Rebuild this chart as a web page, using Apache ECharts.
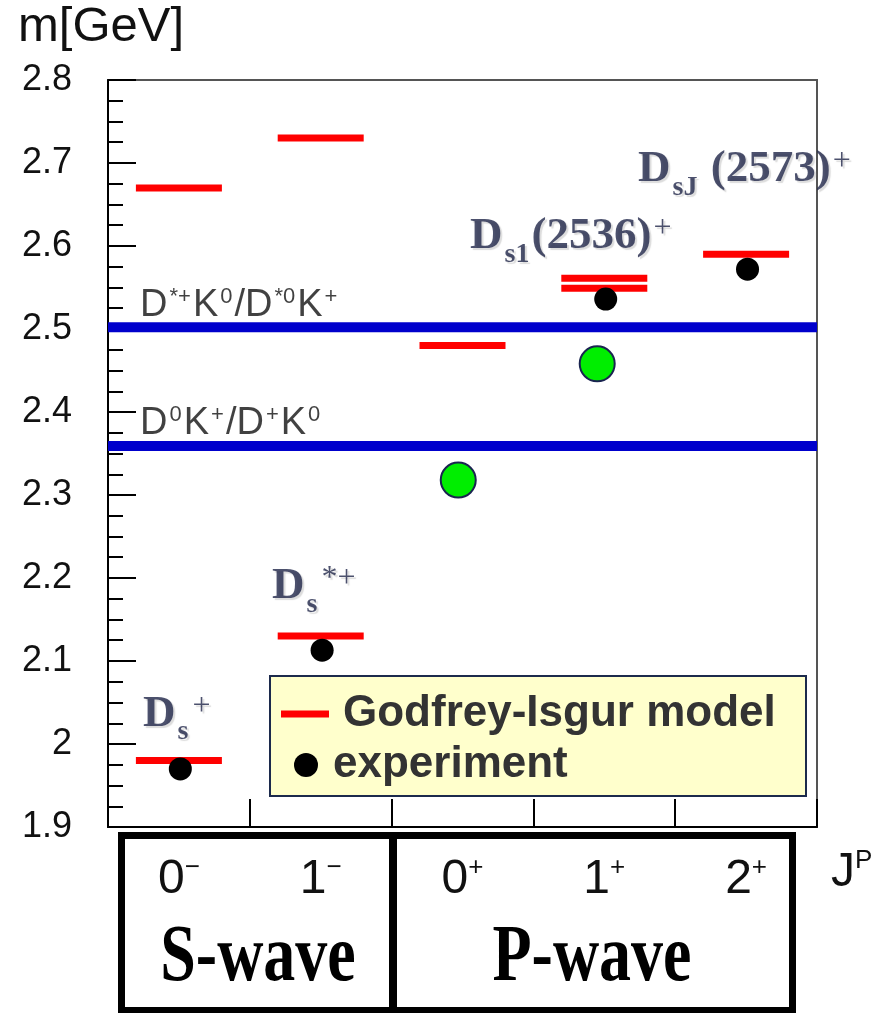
<!DOCTYPE html>
<html>
<head>
<meta charset="utf-8">
<script src="https://cdn.jsdelivr.net/npm/echarts@6/dist/echarts.min.js"></script>
<style>
  html, body { margin: 0; background: #fff; }
  #chart { width: 880px; height: 1013px; }
</style>
</head>
<body>
<div id="chart"></div>
<script>
// J^P bins along the x axis
const states = ['0-', '1-', '0+', '1+', '2+'];

// Godfrey-Isgur model levels: bin index and mass [GeV]
const modelBin = [0, 0, 1, 1, 2, 3, 3, 4];
const modelMass = [1.980, 2.670, 2.730, 2.130, 2.480, 2.561, 2.549, 2.590];

// measured masses (x = bin position)
const expPos = [0.51, 1.51, 3.51, 4.51];
const expMass = [1.970, 2.113, 2.536, 2.572];

// new states below the DK / D*K thresholds
const newPos = [2.47, 3.45];
const newMass = [2.318, 2.458];

// DK thresholds
const thresholdMass = [2.502, 2.359];

// text labels placed in data coordinates
const noteText = [
  '{D|D}{s|s}{p|+}',
  '{D|D}{s|s}{p|*+}',
  '{D|D}{s|s1}{n|(2536)}{p|+}',
  '{D|D}{s|sJ}{n| (2573)}{p|+}',
  '{T|D}{t|*+}{T|K}{t|0}{T|/D}{t|*0}{T|K}{t|+}',
  '{T|D}{t|0}{T|K}{t|+}{T|/D}{t|+}{T|K}{t|0}'
];
const noteX = [0.247, 1.157, 2.553, 3.738, 0.226, 0.226];
const noteY = [2.036, 2.190, 2.611, 2.692, 2.528, 2.386];

const chart = echarts.init(document.getElementById('chart'));

const navy = '#1f2648';
const shadow = {
  textShadowColor: 'rgba(175,175,175,0.55)',
  textShadowBlur: 1,
  textShadowOffsetX: 2,
  textShadowOffsetY: 2
};
const legendText = { fontFamily: 'Liberation Sans', fontWeight: 'bold', fontSize: 44, color: '#333' };
const jpRich = {
  n: { fontFamily: 'Liberation Sans', fontSize: 48, color: '#111', lineHeight: 50 },
  s: { fontFamily: 'Liberation Sans', fontSize: 26, color: '#111', lineHeight: 28, verticalAlign: 'top' }
};

const option = {
  backgroundColor: '#fff',
  animation: false,
  grid: {
    left: 108,
    top: 80,
    width: 709,
    height: 747,
    show: true,
    borderColor: '#555',
    borderWidth: 2
  },
  legend: [
    {
      data: [{ name: 'Godfrey-Isgur model', icon: 'rect' }],
      left: 281,
      top: 692,
      padding: 0,
      itemWidth: 48,
      itemHeight: 7,
      selectedMode: false,
      textStyle: Object.assign({ padding: [0, 0, 0, 9] }, legendText)
    },
    {
      data: [{ name: 'experiment', icon: 'circle' }],
      left: 294,
      top: 743,
      padding: 0,
      itemWidth: 44,
      itemHeight: 24,
      selectedMode: false,
      textStyle: legendText
    }
  ],
  xAxis: [
    {
      type: 'value',
      position: 'bottom',
      min: 0,
      max: 5,
      interval: 1,
      name: '{n|J}{s|P}',
      nameLocation: 'end',
      nameGap: 14,
      nameTextStyle: { padding: [92, 0, 0, 0], rich: jpRich },
      axisLine: { lineStyle: { color: '#000', width: 2 } },
      axisTick: { inside: true, length: 28, lineStyle: { color: '#000', width: 2 } },
      axisLabel: { show: false },
      splitLine: { show: false }
    },
    {
      type: 'category',
      position: 'bottom',
      data: states,
      boundaryGap: true,
      axisLine: { show: false },
      axisTick: { show: false },
      axisLabel: {
        margin: 28,
        formatter: v => '{n|' + v[0] + '}{s|' + (v[1] === '-' ? '\u2212' : '+') + '}',
        rich: jpRich
      }
    }
  ],
  yAxis: {
    type: 'value',
    min: 1.9,
    max: 2.8,
    interval: 0.1,
    name: 'm[GeV]',
    nameLocation: 'end',
    nameGap: 28,
    nameTextStyle: {
      fontFamily: 'Liberation Sans',
      fontSize: 49,
      color: '#111',
      padding: [0, 14, 0, 0]
    },
    axisLine: { show: true, lineStyle: { color: '#000', width: 2 } },
    axisTick: { inside: true, length: 28, lineStyle: { color: '#000', width: 2 } },
    minorTick: { show: true, splitNumber: 4, length: 15, lineStyle: { color: '#000', width: 2 } },
    axisLabel: {
      margin: 36,
      fontFamily: 'Liberation Sans',
      fontSize: 36,
      color: '#111'
    },
    splitLine: { show: false }
  },
  series: [
    {
      name: 'threshold D*K',
      type: 'line',
      data: [[0, thresholdMass[0]], [5, thresholdMass[0]]],
      symbol: 'none',
      silent: true,
      lineStyle: { color: '#0000cc', width: 10 },
      z: 2
    },
    {
      name: 'threshold DK',
      type: 'line',
      data: [[0, thresholdMass[1]], [5, thresholdMass[1]]],
      symbol: 'none',
      silent: true,
      lineStyle: { color: '#0000cc', width: 10 },
      z: 2
    },
    {
      name: 'Godfrey-Isgur model',
      type: 'scatter',
      symbol: 'rect',
      symbolSize: [86, 7],
      itemStyle: { color: '#ff0000', opacity: 1 },
      data: modelMass.map((m, i) => [modelBin[i] + 0.5, m]),
      z: 3
    },
    {
      name: 'experiment',
      type: 'scatter',
      symbol: 'circle',
      symbolSize: 23,
      itemStyle: { color: '#000', opacity: 1 },
      data: expMass.map((m, i) => [expPos[i], m]),
      z: 4
    },
    {
      name: 'new states',
      type: 'scatter',
      symbol: 'circle',
      symbolSize: 35,
      itemStyle: { color: '#00ee00', borderColor: '#1a2450', borderWidth: 2, opacity: 1 },
      data: newMass.map((m, i) => [newPos[i], m]),
      z: 4
    },
    {
      name: 'notes',
      type: 'scatter',
      symbolSize: 0,
      silent: true,
      data: noteY.map((y, i) => [noteX[i], y]),
      z: 5,
      label: {
        show: true,
        position: 'right',
        distance: 0,
        formatter: p => noteText[p.dataIndex],
        rich: {
          D: Object.assign({ fontFamily: 'Liberation Serif', fontWeight: 'bold', fontSize: 45, color: navy, lineHeight: 64 }, shadow),
          n: Object.assign({ fontFamily: 'Liberation Serif', fontWeight: 'bold', fontSize: 45, color: navy, lineHeight: 64 }, shadow),
          s: Object.assign({ fontFamily: 'Liberation Serif', fontWeight: 'bold', fontSize: 28, color: navy, lineHeight: 28, verticalAlign: 'bottom', padding: [0, 2, 0, 2] }, shadow),
          p: Object.assign({ fontFamily: 'Liberation Serif', fontSize: 32, color: navy, lineHeight: 32, verticalAlign: 'middle', padding: [0, 0, 16, 2] }, shadow),
          T: { fontFamily: 'Liberation Sans', fontSize: 38, color: '#111', lineHeight: 40 },
          t: { fontFamily: 'Liberation Sans', fontSize: 22, color: '#111', lineHeight: 28, verticalAlign: 'top', padding: [0, 2, 0, 2] }
        }
      }
    }
  ],
  graphic: [
    // legend frame
    {
      type: 'rect',
      z: 3,
      shape: { x: 270, y: 676, width: 536, height: 120 },
      style: { fill: '#ffffcc', stroke: '#1c2a4c', lineWidth: 2 }
    },
    // S-wave / P-wave box under the axis
    {
      type: 'rect',
      shape: { x: 121.5, y: 835.5, width: 671, height: 175 },
      style: { fill: 'none', stroke: '#000', lineWidth: 7 }
    },
    {
      type: 'line',
      shape: { x1: 393, y1: 835, x2: 393, y2: 1011 },
      style: { stroke: '#000', lineWidth: 8 }
    },
    {
      type: 'text',
      x: 258,
      y: 959,
      scaleX: 0.8,
      style: { text: 'S-wave', font: 'bold 80px "Liberation Serif"', fill: '#000', align: 'center', verticalAlign: 'middle' }
    },
    {
      type: 'text',
      x: 592,
      y: 959,
      scaleX: 0.8,
      style: { text: 'P-wave', font: 'bold 80px "Liberation Serif"', fill: '#000', align: 'center', verticalAlign: 'middle' }
    }
  ]
};

chart.setOption(option);
</script>
</body>
</html>
